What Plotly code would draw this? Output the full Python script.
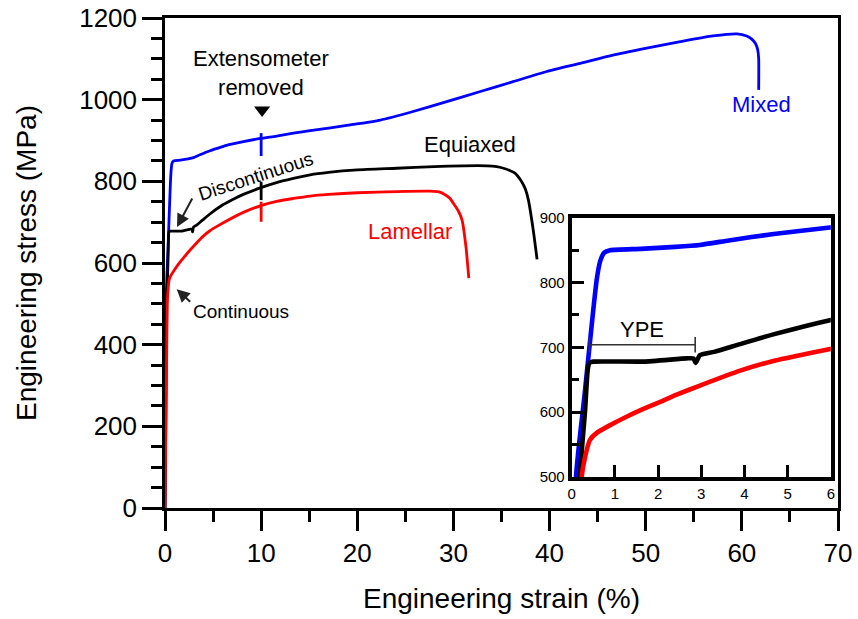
import plotly.graph_objects as go

# Engineering stress-strain data (strain in %, stress in MPa)
mixed_strain = [0, 0.1, 0.3, 0.5, 0.58, 0.66, 0.75, 0.89, 1.6, 2.4, 2.97, 3.64, 4.68,
                5.98, 6.4, 8.15, 9.9, 11.6, 13.35, 15.1, 19.25, 22.4, 25.8, 29.3, 32.8,
                36.2, 39.7, 43.2, 46.6, 50.1, 53.6, 57.0, 59.5, 60.5, 61.0, 61.4, 61.65,
                61.75, 61.75]
mixed_stress = [0, 500, 628, 758, 805, 833, 846, 850, 852, 855, 858, 865, 875,
                885, 888, 897, 905, 911, 918, 924, 938, 950, 971, 995, 1020,
                1044, 1069, 1089, 1109, 1126, 1142, 1156, 1161, 1156, 1149, 1138, 1122,
                1100, 1024]

equiaxed_strain = [0, 0.19, 0.31, 0.37, 0.41, 0.5, 1.66, 2.66, 2.82, 2.87, 2.97, 3.3,
                   3.9, 4.67, 5.98, 7.0, 8.15, 9.9, 11.6, 13.35, 15.1, 17.0, 20.0, 24.1,
                   28.0, 31.0, 33.5, 34.5, 35.2, 35.9, 36.4, 37.1, 37.5, 37.8, 38.3, 38.7]
equiaxed_stress = [0, 500, 603, 665, 676, 678, 678, 683, 683, 676, 688, 693,
                   705, 720, 742, 755, 768, 784, 797, 807, 816, 822, 828, 832,
                   836, 838, 838, 836, 832, 826, 820, 799, 780, 754, 681, 609]

lamellar_strain = [0, 0.23, 0.31, 0.42, 0.58, 0.89, 1.27, 1.66, 2.05, 2.43, 2.97, 3.9,
                   4.67, 5.5, 6.4, 8.15, 9.9, 11.6, 13.35, 15.1, 17.0, 20.0, 24.1, 27.6,
                   28.5, 29.0, 29.6, 30.0, 30.5, 30.9, 31.3, 31.6]
lamellar_stress = [0, 500, 531, 557, 568, 580, 593, 605, 616, 627, 641, 664,
                   679, 691, 703, 724, 740, 751, 758, 764, 768, 772, 775, 776,
                   774, 769, 759, 746, 728, 705, 640, 563]

# Load drops recorded when the extensometer was removed (strain, low, high)
ext_strain = 10.0
mixed_jump = [862, 918]
equiaxed_jump = [754, 799]
lamellar_jump = [701, 750]

series = [
    ("Mixed", mixed_strain, mixed_stress, mixed_jump, "#0000ff"),
    ("Equiaxed", equiaxed_strain, equiaxed_stress, equiaxed_jump, "#000000"),
    ("Lamellar", lamellar_strain, lamellar_stress, lamellar_jump, "#ff0000"),
]

# Yield point elongation bracket (inset coordinates)
ype_start, ype_end, ype_level = 0.41, 2.86, 704

FONT = "Liberation Sans, Arial, sans-serif"

fig = go.Figure()

# Full curves on the main axes
for name, x, y, jump, color in series:
    fig.add_trace(go.Scatter(x=x, y=y, mode="lines", name=name,
                             line=dict(color=color, width=2.8, shape="spline",
                                       smoothing=0.6),
                             xaxis="x", yaxis="y", showlegend=False))
    fig.add_trace(go.Scatter(x=[ext_strain, ext_strain], y=jump, mode="lines",
                             line=dict(color=color, width=2.8),
                             xaxis="x", yaxis="y", showlegend=False, hoverinfo="skip"))

# Magnified early-strain region on the inset axes
for name, x, y, jump, color in series:
    fig.add_trace(go.Scatter(x=x, y=y, mode="lines", name=name + " (inset)",
                             line=dict(color=color, width=4.6, shape="spline",
                                       smoothing=0.5),
                             xaxis="x2", yaxis="y2", showlegend=False))

# Marker where the extensometer was taken off
fig.add_trace(go.Scatter(x=[10.1], y=[975], mode="markers",
                         marker=dict(symbol="triangle-down", size=14, color="black"),
                         xaxis="x", yaxis="y", showlegend=False, hoverinfo="skip"))

axis_common = dict(showgrid=False, zeroline=False, showline=True, linecolor="black",
                   mirror=True, automargin=False)

fig.update_layout(
    width=858, height=619,
    margin=dict(l=165, r=20, t=18, b=111),
    paper_bgcolor="white", plot_bgcolor="white",
    font=dict(family=FONT, color="black"),
    xaxis=dict(**axis_common, domain=[0, 1], range=[0, 70], tick0=0, dtick=10,
               linewidth=2.5, ticks="outside", ticklen=20, tickwidth=2.5,
               tickcolor="black",
               minor=dict(dtick=5, ticks="outside", ticklen=11, tickwidth=2.5,
                          tickcolor="black"),
               tickfont=dict(size=26),
               title=dict(text="Engineering strain (%)", font=dict(size=28), standoff=22)),
    yaxis=dict(**axis_common, domain=[0, 1], range=[0, 1200], tick0=0, dtick=200,
               linewidth=2.5, ticks="outside", ticklen=20, tickwidth=2.5,
               tickcolor="black",
               minor=dict(dtick=50, ticks="outside", ticklen=11, tickwidth=2.5,
                          tickcolor="black"),
               tickfont=dict(size=26),
               title=dict(text="Engineering stress (MPa)", font=dict(size=28), standoff=35)),
    xaxis2=dict(**axis_common, domain=[0.6043, 0.9893], anchor="y2", range=[0, 6],
                tick0=0, dtick=1, linewidth=4, ticks="inside", ticklen=12,
                tickwidth=3, tickcolor="black", tickfont=dict(size=15)),
    yaxis2=dict(**axis_common, domain=[0.0633, 0.5924], anchor="x2", range=[500, 900],
                tick0=500, dtick=100, linewidth=4, ticks="inside", ticklen=12,
                tickwidth=3, tickcolor="black",
                minor=dict(dtick=50, ticks="inside", ticklen=7, tickwidth=3,
                           tickcolor="black"),
                tickfont=dict(size=15)),
)

# YPE bracket on the inset
bracket = dict(color="#333333", width=1.6)
fig.add_shape(type="line", xref="x2", yref="y2", x0=ype_start, x1=ype_end,
              y0=ype_level, y1=ype_level, line=bracket)
for xb in (ype_start, ype_end):
    fig.add_shape(type="line", xref="x2", yref="y2", x0=xb, x1=xb,
                  y0=ype_level - 12, y1=ype_level + 12, line=bracket)

labels = [
    dict(x=10.0, y=1065, text="Extensometer<br>removed", color="black", size=22),
    dict(x=31.7, y=889, text="Equiaxed", color="black", size=22),
    dict(x=25.5, y=676, text="Lamellar", color="#ff0000", size=22),
    dict(x=62.0, y=989, text="Mixed", color="#0000ff", size=22),
    dict(x=7.9, y=482, text="Continuous", color="black", size=19),
]
for lab in labels:
    fig.add_annotation(x=lab["x"], y=lab["y"], xref="x", yref="y", text=lab["text"],
                       showarrow=False, font=dict(size=lab["size"], color=lab["color"]))

fig.add_annotation(x=9.37, y=813, xref="x", yref="y", text="Discontinuous",
                   showarrow=False, textangle=-18, font=dict(size=19))
fig.add_annotation(x=1.63, y=727, xref="x2", yref="y2", text="YPE",
                   showarrow=False, font=dict(size=22))

# Arrows pointing at the yielding behaviour
fig.add_annotation(x=1.25, y=688, xref="x", yref="y", ax=16, ay=-30, text="",
                   showarrow=True, arrowhead=2, arrowsize=1.3, arrowwidth=2,
                   arrowcolor="#222222")
fig.add_annotation(x=1.22, y=536, xref="x", yref="y", ax=15, ay=14, text="",
                   showarrow=True, arrowhead=2, arrowsize=1.3, arrowwidth=2,
                   arrowcolor="#222222")

fig.write_html("out.html")
